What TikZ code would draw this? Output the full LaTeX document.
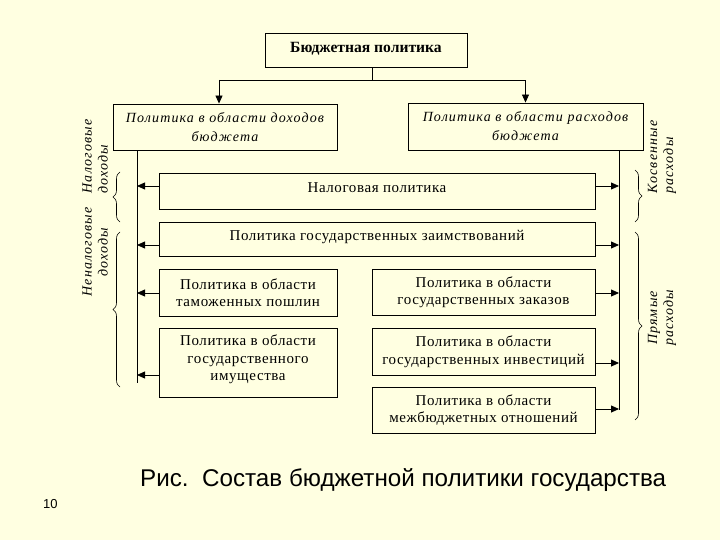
\documentclass[tikz,border=0pt]{standalone}
\usepackage{fontspec}
\setmainfont{Liberation Serif}
\newfontfamily\capfont{Liberation Sans}
\newfontfamily\boxfont[LetterSpace=4]{Liberation Serif}
\newfontfamily\itboxfont[LetterSpace=8]{Liberation Serif Italic}
\usetikzlibrary{arrows.meta,decorations.pathreplacing,calc}
\definecolor{bg}{RGB}{255,255,225}
\begin{document}
\begin{tikzpicture}[x=1pt,y=-1pt,
  box/.style={draw, line width=0.9pt, align=center, inner sep=0pt,
    font=\boxfont\fontsize{15}{17.5}\selectfont},
  itbox/.style={box, font=\itboxfont\fontsize{14}{19}\selectfont},
  arr/.style={-{Triangle[length=8pt,width=7pt]}, line width=0.8pt},
  link/.style={line width=0.8pt},
  brc/.style={decorate, decoration={brace, amplitude=7pt}, line width=0.6pt},
  lbl/.style={rotate=90, inner sep=0pt, font=\itboxfont\fontsize{14}{16}\selectfont}]
\fill[bg] (0,0) rectangle (720,540);
\useasboundingbox (0,0) rectangle (720,540);

% boxes
\node[box, font=\bfseries\fontsize{15.6}{17}\selectfont, minimum width=202pt, minimum height=34pt, text depth=6pt] (T) at (366,50) {Бюджетная политика};
\node[itbox, minimum width=224pt, minimum height=46pt] (L) at (225,127) {Политика в области доходов\\бюджета};
\node[itbox, minimum width=235pt, minimum height=47pt] (R) at (525.5,126.5) {Политика в области расходов\\бюджета};
\node[box, minimum width=436pt, minimum height=36pt, text depth=7.5pt] (N1) at (377,191) {Налоговая политика};
\node[box, minimum width=436pt, minimum height=34pt, text depth=7pt] (N2) at (377,239) {Политика государственных заимствований};
\node[box, minimum width=178pt, minimum height=47pt] (A) at (248,292.5) {Политика в области\\таможенных пошлин};
\node[box, minimum width=178pt, minimum height=69pt, text depth=9pt] (B) at (248,362.5) {Политика в области\\государственного\\имущества};
\node[box, minimum width=223pt, minimum height=46pt] (C) at (483.5,292) {Политика в области\\государственных заказов};
\node[box, minimum width=223pt, minimum height=47pt] (D) at (483.5,351.5) {Политика в области\\государственных инвестиций};
\node[box, minimum width=223pt, minimum height=46pt] (E) at (483.5,410) {Политика в области\\межбюджетных отношений};

% top connectors
\coordinate (j) at (372,80);
\coordinate (jl) at (219,80);
\draw[link] (T.south -| j) -- (j);
\draw[link] (j) -- (jl);
\draw[arr] (jl) -- (L.north -| jl);
\draw[arr] (j) -| (R.north);

% vertical lines
\coordinate (lt) at (137,150);
\coordinate (lb) at (137,383);
\coordinate (rt) at (619,150);
\coordinate (rb) at (619,410);
\draw[link] (L.south -| lt) -- (lb);
\draw[link] (R.south -| rt) -- (rb);

% arrow levels
\coordinate (y1) at (0,186);
\coordinate (y2) at (0,245);
\coordinate (y3) at (0,293);
\coordinate (y4) at (0,375);
\coordinate (y5) at (0,363);
\coordinate (y6) at (0,409);
\draw[arr] (N1.west |- y1) -- (lt |- y1);
\draw[arr] (N1.east |- y1) -- (rt |- y1);
\draw[arr] (N2.west |- y2) -- (lt |- y2);
\draw[arr] (N2.east |- y2) -- (rt |- y2);
\draw[arr] (A.west |- y3) -- (lt |- y3);
\draw[arr] (C.east |- y3) -- (rt |- y3);
\draw[arr] (B.west |- y4) -- (lt |- y4);
\draw[arr] (D.east |- y5) -- (rt |- y5);
\draw[arr] (E.east |- y6) -- (rt |- y6);

% braces
\coordinate (b1a) at (120,222); \coordinate (b1b) at (120,172);
\coordinate (b2a) at (120,387); \coordinate (b2b) at (120,232);
\coordinate (b3a) at (635,170); \coordinate (b3b) at (635,222);
\coordinate (b4a) at (635,232); \coordinate (b4b) at (635,420);
\draw[brc] (b1a) -- (b1b);
\draw[brc] (b2a) -- (b2b);
\draw[brc] (b3a) -- (b3b);
\draw[brc] (b4a) -- (b4b);

% side labels
\node[lbl, align=left] (l1) at (95,156.5) {Налоговые\\доходы};
\node[lbl, align=center] (l2) at (95,252) {Неналоговые\\доходы};
\node[lbl, align=left] (l3) at (662,157) {Косвенные\\расходы};
\node[lbl, align=center] (l4) at (662,318) {Прямые\\расходы};

% caption
\node[anchor=base west, inner sep=0pt, font=\capfont\fontsize{24.2}{28}\selectfont] (cap) at (140,486) {Рис.\ \ Состав бюджетной политики государства};
\node[anchor=base west, inner sep=0pt, font=\capfont\fontsize{13}{15}\selectfont] (pg) at (43,508) {10};
\end{tikzpicture}
\end{document}
